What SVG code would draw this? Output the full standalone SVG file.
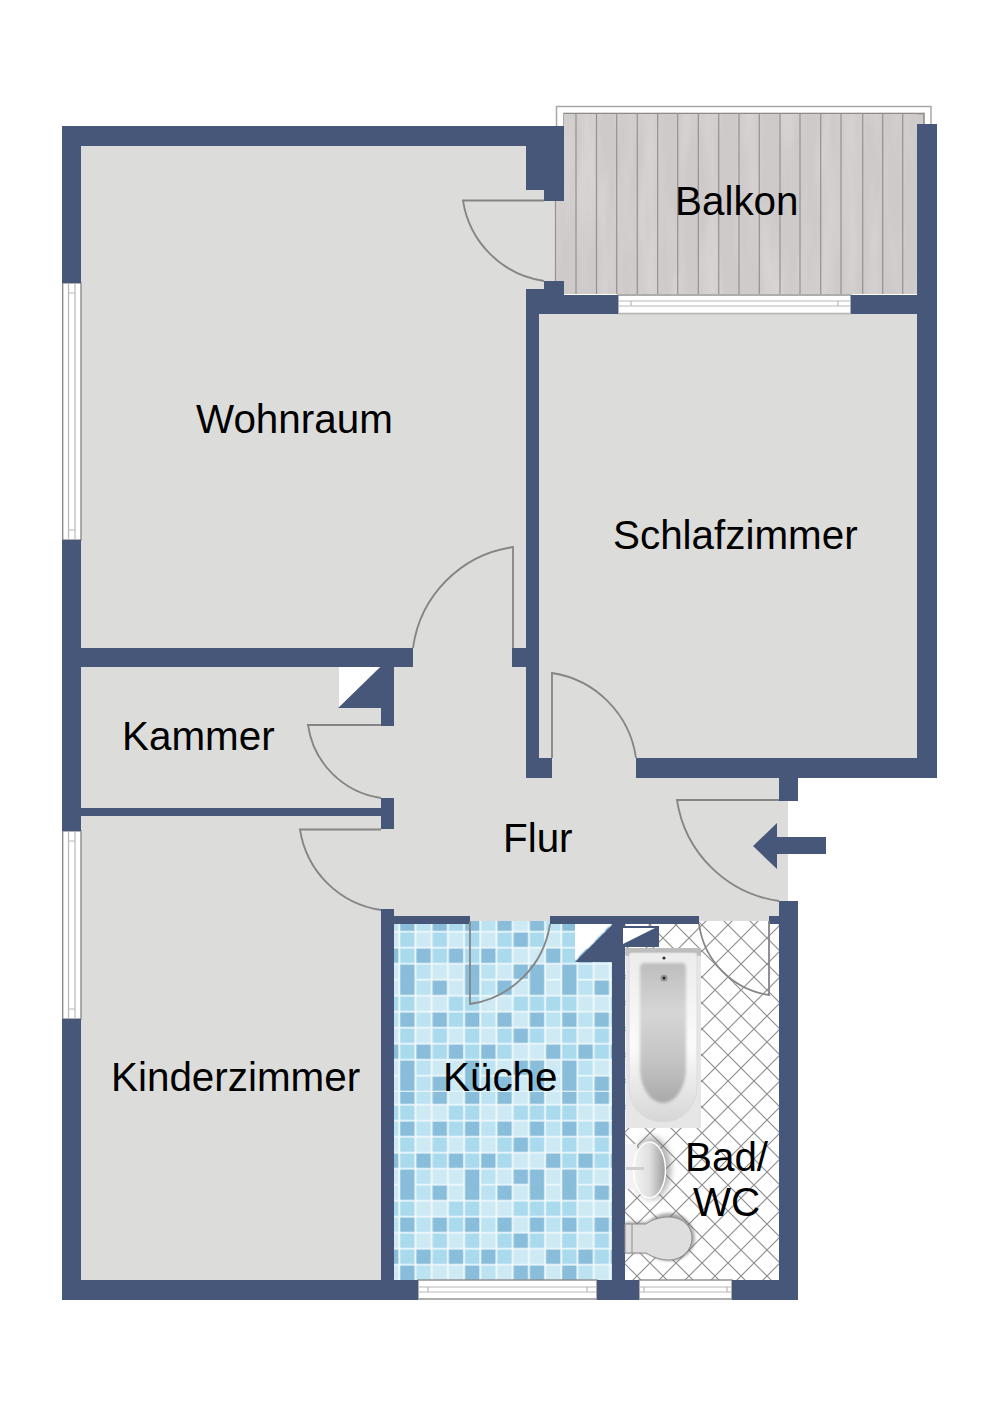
<svg xmlns="http://www.w3.org/2000/svg" width="1000" height="1415" viewBox="0 0 1000 1415">
<style>
text{font-family:"Liberation Sans",Arial,sans-serif;font-size:40.4px;fill:#000}
.floor{fill:#dcdcda}
.wall{fill:#46577a}
.door{fill:none;stroke:#858585;stroke-width:1.8}
.win{fill:#fff;stroke:#8c8c8c;stroke-width:1.4}
.wl{fill:none;stroke:#b8b8b8;stroke-width:1.2}
.plank{stroke:#959191;stroke-width:1.2}
.d{fill:#86bcd9}.m{fill:#a8d9ed}.l{fill:#bae2f1}.v{fill:#cde9f3}
.white{fill:#fff}
</style>
<defs>
<pattern id="mosaic" patternUnits="userSpaceOnUse" x="399.3" y="915.7" width="162" height="96">
<rect width="162" height="96" fill="#f1fafc"/>
<g transform="translate(0.9,0.8)">
<g><rect class="d" x="0" width="14.4" height="14.4"/><rect class="l" x="16.2" width="14.4" height="14.4"/><rect class="d" x="32.4" width="14.4" height="14.4"/><rect class="m" x="48.6" width="14.4" height="14.4"/><rect class="d" x="64.8" width="14.4" height="14.4"/><rect class="l" x="81" width="14.4" height="14.4"/><rect class="d" x="97.2" width="14.4" height="14.4"/><rect class="v" x="113.4" width="14.4" height="14.4"/><rect class="d" x="129.6" width="14.4" height="14.4"/><rect class="l" x="145.8" width="14.4" height="14.4"/></g>
<g transform="translate(0,16)"><rect class="m" x="0" width="14.4" height="14.4"/><rect class="v" x="16.2" width="14.4" height="14.4"/><rect class="m" x="32.4" width="14.4" height="14.4"/><rect class="v" x="48.6" width="14.4" height="14.4"/><rect class="m" x="64.8" width="14.4" height="14.4"/><rect class="v" x="81" width="14.4" height="14.4"/><rect class="m" x="97.2" width="14.4" height="14.4"/><rect class="d" x="113.4" width="14.4" height="14.4"/><rect class="m" x="129.6" width="14.4" height="14.4"/><rect class="v" x="145.8" width="14.4" height="14.4"/></g>
<g transform="translate(0,32)"><rect class="m" x="0" width="14.4" height="14.4"/><rect class="d" x="16.2" width="14.4" height="14.4"/><rect class="m" x="32.4" width="14.4" height="14.4"/><rect class="d" x="48.6" width="14.4" height="14.4"/><rect class="m" x="64.8" width="14.4" height="14.4"/><rect class="d" x="81" width="14.4" height="14.4"/><rect class="m" x="97.2" width="14.4" height="14.4"/><rect class="v" x="113.4" width="14.4" height="14.4"/><rect class="v" x="129.6" width="14.4" height="14.4"/><rect class="d" x="145.8" width="14.4" height="14.4"/></g>
<g transform="translate(0,48)"><rect class="d" x="0" width="14.4" height="16.5"/><rect class="l" x="16.2" width="14.4" height="14.4"/><rect class="v" x="32.4" width="14.4" height="14.4"/><rect class="v" x="48.6" width="14.4" height="14.4"/><rect class="d" x="64.8" width="14.4" height="16.5"/><rect class="l" x="81" width="14.4" height="14.4"/><rect class="v" x="97.2" width="14.4" height="14.4"/><rect class="d" x="113.4" width="14.4" height="14.4"/><rect class="d" x="129.6" width="14.4" height="16.5"/><rect class="v" x="145.8" width="14.4" height="14.4"/></g>
<g transform="translate(0,64)"><rect class="d" x="0" width="14.4" height="14.4"/><rect class="l" x="16.2" width="14.4" height="14.4"/><rect class="d" x="32.4" width="14.4" height="14.4"/><rect class="v" x="48.6" width="14.4" height="14.4"/><rect class="d" x="64.8" width="14.4" height="14.4"/><rect class="l" x="81" width="14.4" height="14.4"/><rect class="d" x="97.2" width="14.4" height="14.4"/><rect class="v" x="113.4" width="14.4" height="14.4"/><rect class="d" x="129.6" width="14.4" height="14.4"/><rect class="v" x="145.8" width="14.4" height="14.4"/></g>
<g transform="translate(0,80)"><rect class="m" x="0" width="14.4" height="14.4"/><rect class="v" x="16.2" width="14.4" height="14.4"/><rect class="v" x="32.4" width="14.4" height="14.4"/><rect class="m" x="48.6" width="14.4" height="14.4"/><rect class="m" x="64.8" width="14.4" height="14.4"/><rect class="v" x="81" width="14.4" height="14.4"/><rect class="v" x="97.2" width="14.4" height="14.4"/><rect class="m" x="113.4" width="14.4" height="14.4"/><rect class="m" x="129.6" width="14.4" height="14.4"/><rect class="m" x="145.8" width="14.4" height="14.4"/></g>
</g>
</pattern>
<pattern id="lattice" patternUnits="userSpaceOnUse" x="702" y="1055" width="26" height="26">
<rect width="26" height="26" fill="#fff"/>
<path d="M0 0L26 26M26 0L0 26" stroke="#8f8f8f" stroke-width="1.2"/>
</pattern>
<filter id="grain" x="0" y="0" width="100%" height="100%"><feTurbulence type="fractalNoise" baseFrequency="0.05 0.008" numOctaves="3" seed="4"/><feColorMatrix values="0 0 0 0 0.9  0 0 0 0 0.88  0 0 0 0 0.88  2.2 0 0 0 -0.85"/></filter>
<filter id="speck" x="0" y="0" width="100%" height="100%"><feTurbulence type="fractalNoise" baseFrequency="0.9" numOctaves="2" seed="2"/><feColorMatrix values="0 0 0 0 1  0 0 0 0 1  0 0 0 0 1  1.2 0 0 0 -0.45"/></filter>
<filter id="soft" x="-30%" y="-30%" width="160%" height="160%"><feGaussianBlur stdDeviation="3"/></filter>
<filter id="soft1" x="-30%" y="-30%" width="160%" height="160%"><feGaussianBlur stdDeviation="1.5"/></filter>
<linearGradient id="rimG" x1="0" y1="0" x2="0" y2="1"><stop offset="0" stop-color="#ececec"/><stop offset="0.55" stop-color="#fbfbfb"/><stop offset="1" stop-color="#d6d6d6"/></linearGradient>
<linearGradient id="tubG" x1="0" y1="0" x2="0" y2="1"><stop offset="0" stop-color="#bdbdbd"/><stop offset="0.35" stop-color="#d6d6d6"/><stop offset="0.7" stop-color="#c4c4c4"/><stop offset="1" stop-color="#a9a9a9"/></linearGradient>
<linearGradient id="sinkG" x1="0" y1="0" x2="1" y2="0"><stop offset="0" stop-color="#f4f4f4"/><stop offset="0.5" stop-color="#e0e0e0"/><stop offset="1" stop-color="#9c9c9c"/></linearGradient>
</defs>

<g id="floors">
<rect class="floor" x="81" y="146" width="474" height="520"/>
<rect class="floor" x="539" y="314" width="378" height="444"/>
<rect class="floor" x="81" y="648" width="707" height="273"/>
<rect class="floor" x="81" y="900" width="300" height="380"/>
</g>

<g id="balkon">
<rect x="556.5" y="106.5" width="374.5" height="30" fill="#fff" stroke="#a8a8a8" stroke-width="1.5"/>
<rect x="564" y="113.5" width="360" height="20" fill="#cfcaca" stroke="#8f8b8b" stroke-width="1.6"/>
<path d="M564 114H917V294H555V200H564Z" fill="#cfcaca"/>
<rect x="555" y="114" width="362" height="180" filter="url(#grain)" opacity="0.28"/>
<g class="plank">
<path d="M576 114V294M596.5 114V294M616.7 114V294M637.3 114V294M657.7 114V294M677.7 114V294M698.3 114V294M718.7 114V294M739 114V294M759.3 114V294M780 114V294M800 114V294M820.7 114V294M841 114V294M862.7 114V294M882.7 114V294M902.7 114V294M555.5 200V294"/>
</g>
</g>

<g id="kueche-floor">
<rect x="394" y="921" width="218" height="171" fill="url(#mosaic)"/>
<g transform="translate(0,13)"><rect x="394" y="1079" width="218" height="188" fill="url(#mosaic)"/></g>
<rect x="394" y="921" width="218" height="359" filter="url(#speck)" opacity="0.15"/>
</g>

<g id="bad-floor">
<rect x="625" y="921" width="154" height="359" fill="url(#lattice)"/>
</g>

<g id="windows">
<g id="window-west-1"><rect class="win" x="62.7" y="283" width="18.3" height="257"/><path class="wl" d="M68.5 283V540M75 283V540M69 293H74.5M69 530H74.5"/></g>
<g id="window-west-2"><rect class="win" x="62.7" y="831" width="18.3" height="188"/><path class="wl" d="M68.5 831V1019M75 831V1019M69 841H74.5M69 1009H74.5"/></g>
<g id="window-balkon"><rect class="win" x="618" y="295" width="233" height="18.5" stroke="none"/><path class="wl" d="M618 301H851M618 306H851M631 301V306M838 301V306M618 313.5H851"/></g>
<g id="window-kueche"><rect class="win" x="418" y="1280" width="179" height="19"/><path class="wl" d="M418 1287H597M418 1292H597M428 1287V1292M587 1287V1292"/></g>
<g id="window-bad"><rect class="win" x="639" y="1280" width="93" height="19"/><path class="wl" d="M639 1287H732M639 1292H732M644 1287V1292M727 1287V1292"/></g>
</g>

<g id="walls" class="wall">
<rect x="62" y="126" width="502" height="20"/>
<rect x="62" y="126" width="19" height="157"/>
<rect x="62" y="540" width="19" height="291"/>
<rect x="62" y="1019" width="19" height="281"/>
<rect x="62" y="1280" width="356" height="20"/>
<rect x="597" y="1280" width="42" height="20"/>
<rect x="732" y="1280" width="66" height="20"/>
<rect x="62" y="648" width="351" height="19"/>
<rect x="81" y="808" width="300" height="8"/>
<path d="M526 146H564V201H544V190H526Z"/>
<rect x="544" y="281" width="20" height="14"/>
<rect x="526" y="289" width="38" height="25"/>
<rect x="564" y="295" width="54" height="19"/>
<rect x="851" y="295" width="66" height="19"/>
<rect x="917" y="124" width="20" height="654"/>
<rect x="526" y="289" width="13" height="489"/>
<rect x="526" y="758" width="26" height="20"/>
<rect x="512" y="648" width="14" height="19"/>
<rect x="636" y="758" width="301" height="20"/>
<rect x="381" y="667" width="13" height="59"/>
<rect x="381" y="798" width="13" height="31"/>
<rect x="381" y="909" width="13" height="391"/>
<rect x="394" y="916" width="76" height="8"/>
<rect x="550" y="916" width="149" height="8"/>
<rect x="769" y="916" width="10" height="8"/>
<rect x="612" y="916" width="13" height="384"/>
<rect x="779" y="778" width="19" height="23"/>
<rect x="779" y="901" width="19" height="399"/>
<polygon points="338,708 381,666 381,708"/>
<polygon points="575,962 612,925 612,962"/>
<rect x="623" y="926" width="36" height="21"/>
</g>

<g id="shafts" class="white">
<polygon points="339,667 380,667 339,707"/>
<polygon points="575,924 611,924 575,960"/>
<polygon points="623,928 655,928 623,944"/>
</g>

<g id="bath">
<rect x="625.5" y="948" width="75.5" height="180" fill="#e6e6e6"/>
<path d="M625.5 948H701V956H625.5Z" fill="#bdbdbd"/>
<path d="M631 953H695Q697 953 697 956V1085C697 1110 680 1122 663 1122C646 1122 629 1110 629 1085V956Q629 953 631 953Z" fill="url(#rimG)" stroke="#dcdcdc"/>
<path d="M644 963H682Q686 963 686 968V1068C686 1088 675 1103 663 1103C651 1103 640 1088 640 1068V968Q640 963 644 963Z" fill="url(#tubG)" filter="url(#soft1)"/>
<circle cx="664" cy="958" r="1.6" fill="#333"/>
<circle cx="664" cy="978" r="3.6" fill="#999"/>
<circle cx="664" cy="978" r="1.5" fill="#222"/>
</g>

<g id="sink">
<ellipse cx="652" cy="1168" rx="19" ry="31" fill="#666" opacity="0.5" filter="url(#soft)"/>
<rect x="625" y="1144" width="12" height="45" fill="#f2f2f2"/>
<ellipse cx="649.5" cy="1170" rx="16" ry="28" fill="url(#sinkG)" stroke="#fff" stroke-width="1.5"/>
<rect x="626" y="1167" width="18" height="3" fill="#cfcfcf"/>
</g>

<g id="toilet">
<path d="M625 1222H647C654 1216 662 1213 670 1213C684 1213 695 1225 695 1238C695 1251 683 1261 670 1261C661 1261 654 1258 647 1253H625Z" fill="#666" opacity="0.55" filter="url(#soft1)"/>
<path d="M625 1224H646C653 1219 661 1217 669 1217C682 1217 692 1226 692 1238C692 1250 682 1260 669 1260C660 1260 653 1257 646 1253H625Z" fill="#dedede" stroke="#8c8c8c" stroke-width="1"/>
<path d="M632 1224V1253" stroke="#8c8c8c" stroke-width="1" fill="none"/>
</g>

<g id="doors">
<path class="door" d="M544 281A96 96 0 0 1 463 200.5H544"/>
<path class="door" d="M513 648V547A118 118 0 0 0 413 648"/>
<path class="door" d="M552 758V673A100 100 0 0 1 636 758"/>
<path class="door" d="M381 725H308A86 86 0 0 0 381 798"/>
<path class="door" d="M381 829.5H300A96 96 0 0 0 381 910"/>
<path class="door" d="M779 800H677A120 120 0 0 0 779 901"/>
<path class="door" d="M470 921V1004A95 95 0 0 0 550 924"/>
<path class="door" d="M769 921V995A83 83 0 0 1 699 924"/>
</g>

<g id="entry-arrow" class="wall">
<polygon points="753,846 777,823 777,837 826,837 826,854 777,854 777,869"/>
</g>

<g id="labels">
<text id="label-balkon" x="675" y="215">Balkon</text>
<text id="label-wohnraum" x="196" y="433">Wohnraum</text>
<text id="label-schlafzimmer" x="613" y="549">Schlafzimmer</text>
<text id="label-kammer" x="122" y="750">Kammer</text>
<text id="label-flur" x="503" y="852">Flur</text>
<text id="label-kinderzimmer" x="111" y="1091">Kinderzimmer</text>
<text id="label-kueche" x="443" y="1091">Küche</text>
<text id="label-bad1" x="685" y="1171">Bad/</text>
<text id="label-bad2" x="693" y="1216">WC</text>
</g>
</svg>
